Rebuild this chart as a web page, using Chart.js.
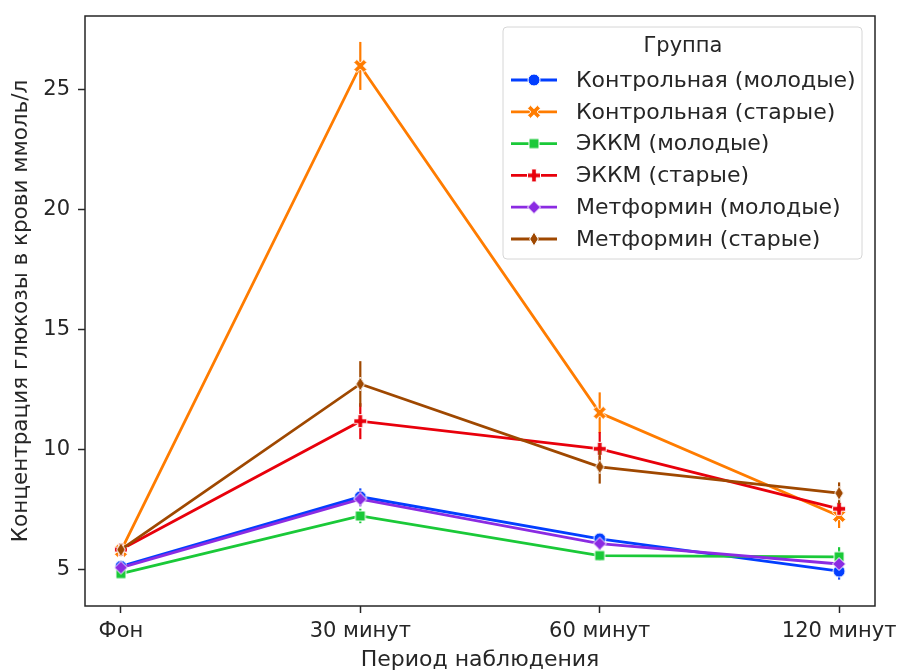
<!DOCTYPE html>
<html>
<head>
<meta charset="utf-8">
<script src="https://cdn.jsdelivr.net/npm/chart.js@4.4.1/dist/chart.umd.min.js"></script>
<style>
  html, body { margin: 0; padding: 0; background: #fff; }
</style>
</head>
<body>
<canvas id="glucoseChart" width="900" height="671"></canvas>
<script>
// периоды наблюдения и деления оси Y
const periods = ['Фон', '30 минут', '60 минут', '120 минут'];
const yTicks = [5, 10, 15, 20, 25];

const groupNames = [
  'Контрольная (молодые)',
  'Контрольная (старые)',
  'ЭККМ (молодые)',
  'ЭККМ (старые)',
  'Метформин (молодые)',
  'Метформин (старые)'
];

// средние значения, ммоль/л
const controlYoung = [5.15, 8.05, 6.3, 4.95];
const controlOld = [5.8, 26.0, 11.55, 7.25];
const eckmYoung = [4.85, 7.25, 5.6, 5.55];
const eckmOld = [5.85, 11.2, 10.05, 7.55];
const metforminYoung = [5.1, 7.95, 6.1, 5.25];
const metforminOld = [5.85, 12.75, 9.3, 8.2];

// полуширина планок погрешности
const controlYoungErr = [0.15, 0.35, 0.2, 0.35];
const controlOldErr = [0.25, 1.0, 0.85, 0.5];
const eckmYoungErr = [0.15, 0.3, 0.2, 0.4];
const eckmOldErr = [0.2, 0.75, 0.7, 0.3];
const metforminYoungErr = [0.15, 0.3, 0.25, 0.2];
const metforminOldErr = [0.25, 0.95, 0.7, 0.45];

const colors = ['#023eff', '#ff7c00', '#1ac938', '#e8000b', '#8b2be2', '#9f4800'];
const shapes = ['o', 'X', 's', 'P', 'D', 'd'];

// matplotlib-like markers as small canvases
function makeMarker(shape, color) {
  const size = 18, c = size / 2;
  const cv = document.createElement('canvas');
  cv.width = size; cv.height = size;
  const ctx = cv.getContext('2d');
  ctx.fillStyle = color;
  ctx.strokeStyle = '#fff';
  ctx.lineWidth = 1;
  ctx.beginPath();
  const poly = pts => {
    pts.forEach((p, i) => i ? ctx.lineTo(c + p[0], c + p[1]) : ctx.moveTo(c + p[0], c + p[1]));
    ctx.closePath();
  };
  const plus = (h, t) => [[-t,-h],[t,-h],[t,-t],[h,-t],[h,t],[t,t],[t,h],[-t,h],[-t,t],[-h,t],[-h,-t],[-t,-t]];
  if (shape === 'o') {
    ctx.arc(c, c, 6, 0, Math.PI * 2);
  } else if (shape === 's') {
    poly([[-5,-5],[5,-5],[5,5],[-5,5]]);
  } else if (shape === 'P') {
    poly(plus(6.5, 2.3));
  } else if (shape === 'X') {
    const a = Math.PI / 4;
    poly(plus(7, 2.2).map(p => [p[0]*Math.cos(a) - p[1]*Math.sin(a), p[0]*Math.sin(a) + p[1]*Math.cos(a)]));
  } else if (shape === 'D') {
    poly([[0,-6.5],[6.5,0],[0,6.5],[-6.5,0]]);
  } else {
    poly([[0,-7],[4.3,0],[0,7],[-4.3,0]]);
  }
  ctx.fill();
  ctx.stroke();
  return cv;
}

const markers = shapes.map((s, i) => makeMarker(s, colors[i]));
const means = [controlYoung, controlOld, eckmYoung, eckmOld, metforminYoung, metforminOld];
const errors = [controlYoungErr, controlOldErr, eckmYoungErr, eckmOldErr, metforminYoungErr, metforminOldErr];

const datasets = groupNames.map((name, i) => ({
  label: name,
  data: means[i].map((v, j) => ({ x: j, y: v })),
  errors: errors[i],
  borderColor: colors[i],
  backgroundColor: colors[i],
  borderWidth: 2.8,
  pointStyle: markers[i],
  pointRadius: 6,
  tension: 0,
  fill: false,
  order: groupNames.length - i
}));

const errorBars = {
  id: 'errorBars',
  beforeDatasetDraw(chart, args) {
    const ds = chart.data.datasets[args.index];
    const y = chart.scales.y, x = chart.scales.x;
    const ctx = chart.ctx;
    ctx.save();
    ctx.strokeStyle = ds.borderColor;
    ctx.lineWidth = 2.2;
    ds.data.forEach((p, j) => {
      const px = x.getPixelForValue(p.x);
      ctx.beginPath();
      ctx.moveTo(px, y.getPixelForValue(p.y - ds.errors[j]));
      ctx.lineTo(px, y.getPixelForValue(p.y + ds.errors[j]));
      ctx.stroke();
    });
    ctx.restore();
  }
};

const frameAndLegend = {
  id: 'frameAndLegend',
  afterDraw(chart) {
    const ctx = chart.ctx, a = chart.chartArea;
    ctx.save();
    ctx.strokeStyle = '#262626';
    ctx.lineWidth = 1.5;
    ctx.strokeRect(a.left, a.top, a.right - a.left, a.bottom - a.top);

    // legend box
    const bw = 359, bh = 232;
    const bx = a.right - 13 - bw, by = a.top + 11;
    ctx.beginPath();
    ctx.roundRect(bx, by, bw, bh, 4);
    ctx.fillStyle = 'rgba(255,255,255,0.85)';
    ctx.fill();
    ctx.strokeStyle = '#d6d6d6';
    ctx.lineWidth = 1;
    ctx.stroke();

    ctx.fillStyle = '#262626';
    ctx.font = '21px "DejaVu Sans"';
    ctx.textBaseline = 'middle';
    ctx.textAlign = 'center';
    ctx.fillText('Группа', bx + 180, by + 20);
    ctx.font = '22px "DejaVu Sans"';
    ctx.textAlign = 'left';
    chart.data.datasets.forEach((ds, i) => {
      const ry = by + 53 + i * 31.8;
      ctx.strokeStyle = ds.borderColor;
      ctx.lineWidth = 2.8;
      ctx.beginPath();
      ctx.moveTo(bx + 8, ry);
      ctx.lineTo(bx + 54, ry);
      ctx.stroke();
      ctx.drawImage(ds.pointStyle, bx + 31 - 9, ry - 9);
      ctx.fillStyle = '#262626';
      ctx.fillText(ds.label, bx + 73, ry + 1);
    });
    ctx.restore();
  }
};

new Chart(document.getElementById('glucoseChart'), {
  type: 'line',
  data: { datasets },
  plugins: [errorBars, frameAndLegend],
  options: {
    responsive: false,
    devicePixelRatio: 1,
    animation: false,
    layout: { padding: { top: 16, right: 25, left: 0, bottom: 0 } },
    plugins: {
      legend: { display: false },
      tooltip: { enabled: false }
    },
    scales: {
      x: {
        type: 'linear',
        min: -0.15,
        max: 3.15,
        afterBuildTicks: scale => { scale.ticks = periods.map((p, i) => ({ value: i })); },
        afterFit: scale => { scale.height = 65; scale.paddingLeft = 0; scale.paddingRight = 0; },
        border: { display: false },
        grid: { drawOnChartArea: false, drawTicks: true, tickLength: 7, color: '#262626', tickWidth: 1.5 },
        ticks: {
          color: '#262626',
          font: { family: 'DejaVu Sans', size: 21 },
          padding: 6,
          maxRotation: 0,
          autoSkip: false,
          callback: v => periods[v]
        },
        title: {
          display: true,
          text: 'Период наблюдения',
          color: '#262626',
          font: { family: 'DejaVu Sans', size: 22, lineHeight: 1 },
          padding: { top: 0, bottom: 0 }
        }
      },
      y: {
        min: 3.5,
        max: 28.08,
        afterBuildTicks: scale => { scale.ticks = yTicks.map(v => ({ value: v })); },
        afterFit: scale => { scale.width = 85; scale.paddingTop = 0; scale.paddingBottom = 0; },
        border: { display: false },
        grid: { drawOnChartArea: false, drawTicks: true, tickLength: 7, color: '#262626', tickWidth: 1.5 },
        ticks: {
          color: '#262626',
          font: { family: 'DejaVu Sans', size: 21 },
          padding: 8
        },
        title: {
          display: true,
          text: 'Концентрация глюкозы в крови ммоль/л',
          color: '#262626',
          font: { family: 'DejaVu Sans', size: 21.5, lineHeight: 1.2 },
          padding: { top: 9, bottom: 0 }
        }
      }
    }
  }
});
</script>
</body>
</html>
